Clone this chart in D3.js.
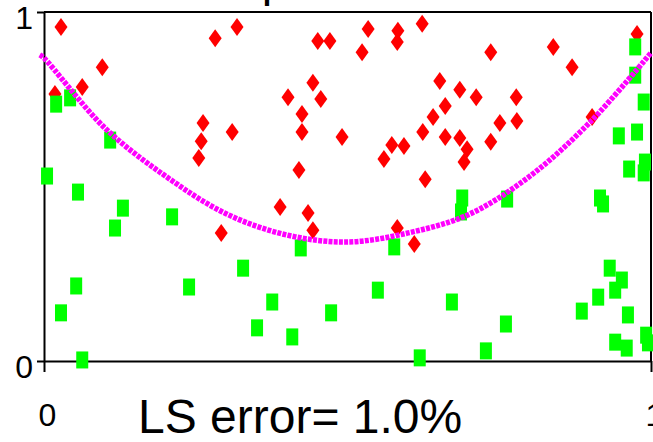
<!DOCTYPE html>
<html>
<head>
<meta charset="utf-8">
<script src="https://cdn.jsdelivr.net/npm/d3@7/dist/d3.min.js"></script>
<style>
  html, body { margin: 0; padding: 0; background: #fff; overflow: hidden; }
  svg { display: block; font-family: "Liberation Sans", Arial, sans-serif; }
</style>
</head>
<body>
<svg id="chart" width="653" height="442"></svg>
<script>
// Class 1 samples (red diamonds): x coordinates and y coordinates
const classOneX = [0.028, 0.018, 0.063, 0.096, 0.282, 0.318, 0.262, 0.259, 0.255, 0.310,
  0.292, 0.402, 0.443, 0.425, 0.456, 0.425, 0.420, 0.389, 0.435, 0.443,
  0.451, 0.471, 0.491, 0.524, 0.534, 0.583, 0.582, 0.560, 0.573, 0.593,
  0.582, 0.610, 0.623, 0.624, 0.628, 0.641, 0.652, 0.661, 0.661, 0.685,
  0.685, 0.697, 0.692, 0.712, 0.736, 0.736, 0.751, 0.778, 0.779, 0.839,
  0.870, 0.903, 0.977];
const classOneY = [0.957, 0.765, 0.785, 0.842, 0.925, 0.957, 0.682, 0.630, 0.582, 0.656,
  0.367, 0.756, 0.797, 0.708, 0.751, 0.656, 0.547, 0.441, 0.424, 0.375,
  0.917, 0.917, 0.642, 0.885, 0.951, 0.946, 0.914, 0.579, 0.619, 0.616,
  0.381, 0.335, 0.966, 0.656, 0.521, 0.699, 0.802, 0.731, 0.642, 0.777,
  0.639, 0.607, 0.570, 0.756, 0.628, 0.885, 0.682, 0.756, 0.688, 0.900,
  0.842, 0.699, 0.937];

// Class 0 samples (green squares)
const classZeroX = [0.020, 0.043, 0.109, 0.005, 0.056, 0.130, 0.117, 0.211, 0.053, 0.239,
  0.028, 0.063, 0.328, 0.423, 0.577, 0.550, 0.376, 0.351, 0.409, 0.473,
  0.619, 0.689, 0.687, 0.763, 0.672, 0.761, 0.728, 0.916, 0.921, 0.964,
  0.990, 0.988, 0.947, 0.977, 0.988, 0.974, 0.974, 0.932, 0.952, 0.941,
  0.913, 0.886, 0.962, 0.941, 0.960, 0.992, 0.995];
const classZeroY = [0.736, 0.754, 0.633, 0.530, 0.484, 0.438, 0.381, 0.413, 0.215, 0.212,
  0.138, 0.003, 0.266, 0.324, 0.327, 0.203, 0.169, 0.095, 0.069, 0.138,
  0.009, 0.467, 0.427, 0.464, 0.169, 0.106, 0.029, 0.467, 0.450, 0.550,
  0.570, 0.539, 0.645, 0.656, 0.742, 0.819, 0.900, 0.266, 0.232, 0.203,
  0.183, 0.143, 0.132, 0.054, 0.037, 0.074, 0.052];

// Fitted decision boundary
const boundaryX = [-0.007, 0.0, 0.1, 0.2, 0.3, 0.4, 0.5, 0.6, 0.7, 0.8, 0.9, 1.0];
const boundaryY = [0.877, 0.868, 0.668, 0.530, 0.422, 0.361, 0.341, 0.367, 0.420, 0.529, 0.685, 0.883];

// Axis ticks and annotations
const xTicks = [0, 1];
const yTicks = [0, 1];
const titleText = "Sample";
const errorText = "LS error= 1.0%";

const svg = d3.select("#chart");
const x = d3.scaleLinear().domain([0, 1]).range([44, 651]);
const y = d3.scaleLinear().domain([0, 1]).range([361, 12]);

// Title (sits mostly above the canvas)
svg.append("text")
  .attr("x", 165).attr("y", -4)
  .attr("font-size", 47)
  .text(titleText);

// Frame: top and right edges
svg.append("line")
  .attr("x1", x(0)).attr("x2", x(1)).attr("y1", y(1)).attr("y2", y(1))
  .attr("stroke", "#000").attr("stroke-width", 2);
svg.append("line")
  .attr("x1", x(1)).attr("x2", x(1)).attr("y1", y(1)).attr("y2", y(0))
  .attr("stroke", "#000").attr("stroke-width", 2);

// Y axis
const yAxis = svg.append("g")
  .attr("transform", `translate(${x(0)},0)`)
  .call(d3.axisLeft(y).tickValues(yTicks).tickFormat(d3.format("d"))
    .tickSize(7).tickSizeOuter(0).tickPadding(4));
yAxis.select(".domain").attr("stroke-width", 2);
yAxis.selectAll(".tick line").attr("stroke-width", 2);
yAxis.selectAll(".tick text")
  .attr("font-size", 32).attr("font-family", "Liberation Sans, Arial, sans-serif")
  .attr("fill", "#000").attr("dy", "0.52em");

// X axis
const xAxis = svg.append("g")
  .attr("transform", `translate(0,${y(0)})`)
  .call(d3.axisBottom(x).tickValues(xTicks).tickFormat(d3.format("d"))
    .tickSize(11).tickSizeOuter(0));
xAxis.select(".domain").attr("stroke-width", 2);
xAxis.selectAll(".tick line").attr("stroke-width", 2);
xAxis.selectAll(".tick text")
  .attr("font-size", 32).attr("font-family", "Liberation Sans, Arial, sans-serif")
  .attr("fill", "#000").attr("x", 3).attr("y", 65).attr("dy", "0");

// Red diamonds
const redPts = classOneX.map((v, i) => [v, classOneY[i]]);
const dw = 6.5, dh = 9;
svg.append("g").selectAll("path")
  .data(redPts).join("path")
  .attr("d", d => {
    const cx = x(d[0]), cy = y(d[1]);
    return `M${cx},${cy - dh}L${cx + dw},${cy}L${cx},${cy + dh}L${cx - dw},${cy}Z`;
  })
  .attr("fill", "#ff0000");

// Green squares
const greenPts = classZeroX.map((v, i) => [v, classZeroY[i]]);
const sw = 12, sh = 17;
svg.append("g").selectAll("rect")
  .data(greenPts).join("rect")
  .attr("x", d => x(d[0]) - sw / 2)
  .attr("y", d => y(d[1]) - sh / 2)
  .attr("width", sw).attr("height", sh)
  .attr("fill", "#00ff00");

// Boundary curve
const boundary = boundaryX.map((v, i) => [v, boundaryY[i]]);
svg.append("path")
  .datum(boundary)
  .attr("d", d3.line().x(d => x(d[0])).y(d => y(d[1])).curve(d3.curveCatmullRom))
  .attr("fill", "none")
  .attr("stroke", "#ff00ff")
  .attr("stroke-width", 5.5)
  .attr("stroke-dasharray", "4,1.2");

// Error annotation
svg.append("text")
  .attr("x", 138).attr("y", 433)
  .attr("font-size", 48)
  .attr("fill", "#000")
  .text(errorText);
</script>
</body>
</html>
